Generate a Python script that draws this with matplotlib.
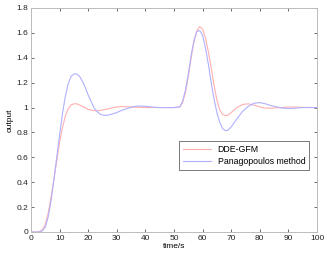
import matplotlib
matplotlib.use('Agg')
import matplotlib.pyplot as plt

# data
t_dde = [0, 1, 2, 3, 4, 5, 6, 7, 8, 9, 10, 11, 12, 13, 14, 15, 16, 17, 18, 20,
         22, 24, 26, 28, 30, 32, 35, 40, 45, 50, 52, 53, 54, 55, 56, 57, 58, 59,
         60, 61, 62, 63, 64, 65, 66, 67, 68, 69, 70, 72, 74, 76, 78, 80, 82, 84,
         86, 88, 90, 95, 100]
y_dde = [0, 0, 0, 0.005, 0.02, 0.06, 0.15, 0.28, 0.42, 0.57, 0.72, 0.84, 0.93,
         0.99, 1.02, 1.03, 1.03, 1.02, 1.01, 0.985, 0.975, 0.975, 0.985, 0.995,
         1.005, 1.008, 1.005, 1.0, 1.0, 1.0, 1.005, 1.04, 1.12, 1.25, 1.40, 1.53,
         1.62, 1.65, 1.63, 1.56, 1.45, 1.32, 1.18, 1.06, 0.98, 0.945, 0.935, 0.94,
         0.96, 1.0, 1.025, 1.03, 1.02, 1.005, 0.995, 0.995, 0.998, 1.0, 1.005,
         1.002, 1.0]

t_pan = [0, 1, 2, 3, 4, 5, 6, 7, 8, 9, 10, 11, 12, 13, 14, 15, 16, 17, 18, 19,
         20, 21, 22, 23, 24, 25, 26, 27, 28, 30, 32, 34, 36, 38, 40, 42, 45, 50,
         52, 53, 54, 55, 56, 57, 58, 59, 60, 61, 62, 63, 64, 65, 66, 67, 68, 69,
         70, 72, 74, 76, 78, 80, 82, 84, 86, 88, 90, 92, 95, 100]
y_pan = [0, 0, 0, 0, 0.01, 0.04, 0.12, 0.25, 0.42, 0.6, 0.78, 0.95, 1.09, 1.19,
         1.25, 1.27, 1.27, 1.25, 1.21, 1.16, 1.10, 1.05, 1.0, 0.97, 0.95, 0.94,
         0.937, 0.94, 0.945, 0.96, 0.98, 0.995, 1.008, 1.012, 1.01, 1.005, 1.0,
         1.0, 1.005, 1.05, 1.14, 1.27, 1.42, 1.54, 1.61, 1.62, 1.58, 1.48, 1.35,
         1.2, 1.07, 0.96, 0.88, 0.83, 0.815, 0.82, 0.845, 0.91, 0.97, 1.01,
         1.035, 1.04, 1.03, 1.015, 1.005, 0.995, 0.993, 0.995, 1.0, 1.0]

xticks = list(range(0, 101, 10))
yticks = [0, 0.2, 0.4, 0.6, 0.8, 1, 1.2, 1.4, 1.6, 1.8]
ytick_labels = ['0', '0.2', '0.4', '0.6', '0.8', '1', '1.2', '1.4', '1.6', '1.8']

plt.rcParams['font.family'] = ['Liberation Sans', 'DejaVu Sans']

fig = plt.figure(figsize=(3.27, 2.58), dpi=100)
ax = fig.add_axes([31/327, 1 - 232/258, 286/327, 224/258])

ax.plot(t_dde, y_dde, color='#ffb0b0', lw=0.8, label='DDE-GFM')
ax.plot(t_pan, y_pan, color='#b0b0ff', lw=0.8, label='Panagopoulos method')

ax.set_xlim(0, 100)
ax.set_ylim(0, 1.8)
ax.set_xticks(xticks)
ax.set_yticks(yticks)
ax.set_yticklabels(ytick_labels)
ax.tick_params(direction='in', length=2, width=0.6, labelsize=6, pad=2,
               top=True, right=True, colors='#555555', labelcolor='#222222')
for s in ax.spines.values():
    s.set_color('#bbbbbb')
    s.set_linewidth(0.7)

ax.set_xlabel('time/s', fontsize=6, labelpad=1)
ax.set_ylabel('output', fontsize=6, labelpad=2)

leg = ax.legend(loc='upper right', bbox_to_anchor=(0.988, 0.425), fontsize=6.3,
                fancybox=False, framealpha=1, edgecolor='#444444',
                handlelength=3.2, borderpad=0.45, labelspacing=0.35)
leg.get_frame().set_linewidth(0.5)

fig.savefig('out.png', dpi=100)
